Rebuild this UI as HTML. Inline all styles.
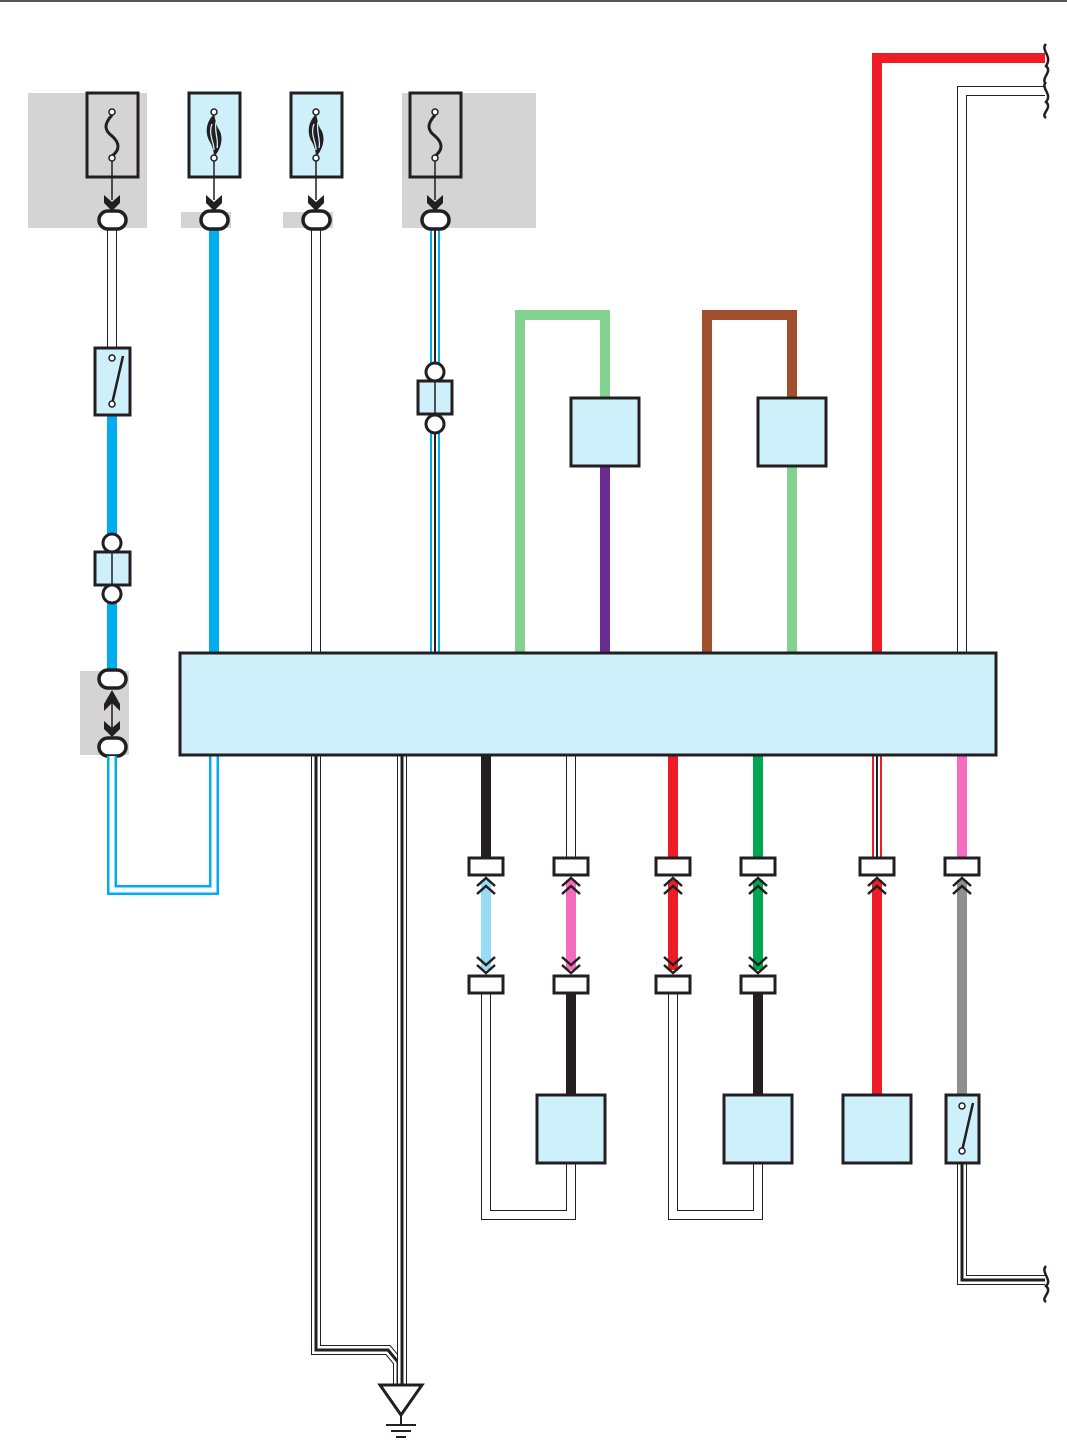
<!DOCTYPE html>
<html><head><meta charset="utf-8"><style>html,body{margin:0;padding:0;background:#fff}svg{display:block}</style></head><body>
<svg width="1067" height="1442" viewBox="0 0 1067 1442" xmlns="http://www.w3.org/2000/svg" fill="none" stroke-linecap="butt" stroke-linejoin="miter">
<defs>
<g id="chev"><path d="M-8,-8 L0,-1 L8,-8 L8,0 L0,8 L-8,0 Z" fill="#231f20"/></g>
<g id="dup"><path d="M-9,8 L0,0 L9,8 M-9,16 L0,8 L9,16" stroke="#231f20" stroke-width="2.5"/></g>
<g id="ddn"><path d="M-9,-8 L0,0 L9,-8 M-9,-16 L0,-8 L9,-16" stroke="#231f20" stroke-width="2.5"/></g>
</defs>
<line x1="0" y1="1" x2="1067" y2="1" stroke="#231f20" stroke-width="1.5"/>
<g fill="#d4d4d4">
<rect x="28" y="93" width="119" height="135"/><rect x="181" y="212" width="50" height="16"/>
<rect x="283" y="212" width="50" height="16"/><rect x="402" y="93" width="134" height="135"/>
<rect x="80" y="671" width="49" height="84"/>
</g>
<path d="M112,228V348" stroke="#231f20" stroke-width="10"/><path d="M112,228V348" stroke="#fff" stroke-width="8"/>
<path d="M112,415V672" stroke="#00aeef" stroke-width="10"/>
<path d="M214,228V652" stroke="#00aeef" stroke-width="10"/>
<path d="M316,228V652" stroke="#231f20" stroke-width="10"/><path d="M316,228V652" stroke="#fff" stroke-width="8"/>
<path d="M435,228V652" stroke="#00aeef" stroke-width="10"/><path d="M435,228V652" stroke="#fff" stroke-width="6"/><path d="M435,228V652" stroke="#231f20" stroke-width="2"/>
<path d="M520,652V315H605V398" stroke="#84d290" stroke-width="10"/>
<path d="M605,466V652" stroke="#6a2c91" stroke-width="10"/>
<path d="M707,652V315H792V398" stroke="#a0502d" stroke-width="10"/>
<path d="M792,466V652" stroke="#84d290" stroke-width="10"/>
<path d="M877,652V58H1045" stroke="#ee1c25" stroke-width="10"/>
<path d="M962,652V91H1045" stroke="#231f20" stroke-width="10"/><path d="M962,652V91H1045" stroke="#fff" stroke-width="8"/>
<path d="M1046,44 C1040,50 1053,56 1046,66 C1053,72 1040,78 1046,84 M1046,82 C1040,88 1053,94 1046,102 C1053,108 1040,114 1046,118" stroke="#231f20" stroke-width="2.5"/>
<g stroke="#231f20" stroke-width="3">
<rect x="87" y="93" width="51" height="84"/>
<rect x="189" y="93" width="51" height="84" fill="#cdf0fb"/>
<rect x="291" y="93" width="51" height="84" fill="#cdf0fb"/>
<rect x="410" y="93" width="51" height="84"/>
</g>
<g stroke="#231f20" stroke-width="3">
<path d="M112,115 C104,124 104,130 112,136 C120,143 120,150 112,156"/>
<path d="M435,115 C427,124 427,130 435,136 C443,143 443,150 435,156"/>
</g>
<path d="M214,114 C204,124 206,136 210,142 C213,148 214,152 214,157 C222,148 224,136 218,128 C216,124 215,118 214,114Z" fill="#231f20"/>
<path d="M212,124 C208,134 214,142 214,150 M216,122 C214,132 219,140 217,148" stroke="#cdf0fb" stroke-width="1.3"/>
<path d="M316,114 C306,124 308,136 312,142 C315,148 316,152 316,157 C324,148 326,136 320,128 C318,124 317,118 316,114Z" fill="#231f20"/>
<path d="M314,124 C310,134 316,142 316,150 M318,122 C316,132 321,140 319,148" stroke="#cdf0fb" stroke-width="1.3"/>
<g stroke="#231f20" stroke-width="1.5" fill="#fff">
<line x1="112" y1="158" x2="112" y2="200"/><line x1="214" y1="158" x2="214" y2="200"/><line x1="316" y1="158" x2="316" y2="200"/><line x1="435" y1="158" x2="435" y2="200"/>
<circle cx="112" cy="112" r="3"/><circle cx="112" cy="158" r="3"/>
<circle cx="214" cy="112" r="3"/><circle cx="214" cy="158" r="3"/>
<circle cx="316" cy="112" r="3"/><circle cx="316" cy="158" r="3"/>
<circle cx="435" cy="112" r="3"/><circle cx="435" cy="158" r="3"/>
</g>
<use href="#chev" x="112" y="203"/><use href="#chev" x="214" y="203"/><use href="#chev" x="316" y="203"/><use href="#chev" x="435" y="203"/>
<g stroke="#231f20" stroke-width="3.5" fill="#fff">
<rect x="99" y="211" width="27" height="18" rx="9"/><rect x="201" y="211" width="27" height="18" rx="9"/>
<rect x="303" y="211" width="27" height="18" rx="9"/><rect x="422" y="211" width="27" height="18" rx="9"/>
<rect x="99" y="670" width="27" height="18" rx="9"/><rect x="99" y="738" width="27" height="18" rx="9"/>
</g>
<line x1="112" y1="693" x2="112" y2="730" stroke="#231f20" stroke-width="1.5"/>
<path d="M104,704 L112,690 L120,704 L120,711 L112,703 L104,711Z" fill="#231f20"/>
<use href="#chev" x="112" y="729"/>
<rect x="95" y="348" width="35" height="67" fill="#cdf0fb" stroke="#231f20" stroke-width="3"/>
<line x1="112" y1="404" x2="123" y2="356" stroke="#231f20" stroke-width="2.5"/>
<circle cx="112" cy="358" r="3" fill="#fff" stroke="#231f20" stroke-width="1.5"/><circle cx="112" cy="404" r="3" fill="#fff" stroke="#231f20" stroke-width="1.5"/>
<g stroke="#231f20" stroke-width="3">
<circle cx="112" cy="543" r="9" fill="#fff"/><circle cx="112" cy="594" r="9" fill="#fff"/>
<rect x="95" y="552" width="35" height="33" fill="#cdf0fb"/>
<circle cx="435" cy="372" r="9" fill="#fff"/><circle cx="435" cy="424" r="9" fill="#fff"/>
<rect x="418" y="381" width="34" height="33" fill="#cdf0fb"/>
<rect x="571" y="398" width="68" height="68" fill="#cdf0fb"/>
<rect x="758" y="398" width="68" height="68" fill="#cdf0fb"/>
</g>
<line x1="112" y1="552" x2="112" y2="585" stroke="#231f20" stroke-width="1.5"/>
<line x1="435" y1="381" x2="435" y2="414" stroke="#231f20" stroke-width="1.5"/>
<path d="M112,756V890H214V755" stroke="#00aeef" stroke-width="10"/><path d="M112,756V890H214V755" stroke="#fff" stroke-width="5"/>
<path d="M316,755V1350H388L398,1362V1385" stroke="#231f20" stroke-width="10"/><path d="M316,755V1350H388L398,1362V1385" stroke="#fff" stroke-width="8"/><path d="M316,755V1350H388L398,1362V1385" stroke="#231f20" stroke-width="3"/>
<path d="M402,755V1385" stroke="#231f20" stroke-width="10"/><path d="M402,755V1385" stroke="#fff" stroke-width="8"/><path d="M402,755V1385" stroke="#231f20" stroke-width="3"/>
<path d="M380,1385H422L401,1415Z" fill="#fff" stroke="#231f20" stroke-width="3"/>
<path d="M401,1415V1424M386,1425H416M391,1431H411M396,1437H406" stroke="#231f20" stroke-width="2"/>
<path d="M486,755V858" stroke="#231f20" stroke-width="10"/>
<path d="M486,880V970" stroke="#97dcf7" stroke-width="10"/>
<path d="M486,993V1215H571V1163" stroke="#231f20" stroke-width="10"/><path d="M486,993V1215H571V1163" stroke="#fff" stroke-width="8"/>
<path d="M571,755V858" stroke="#231f20" stroke-width="10"/><path d="M571,755V858" stroke="#fff" stroke-width="8"/>
<path d="M571,880V970" stroke="#f56bbd" stroke-width="10"/>
<path d="M571,993V1095" stroke="#231f20" stroke-width="10"/>
<path d="M673,755V858M673,880V970" stroke="#ee1c25" stroke-width="10"/>
<path d="M673,993V1215H758V1163" stroke="#231f20" stroke-width="10"/><path d="M673,993V1215H758V1163" stroke="#fff" stroke-width="8"/>
<path d="M758,755V858M758,880V970" stroke="#00a651" stroke-width="10"/>
<path d="M758,993V1095" stroke="#231f20" stroke-width="10"/>
<path d="M877,755V858" stroke="#ee1c25" stroke-width="10"/><path d="M877,755V858" stroke="#fff" stroke-width="6"/><path d="M877,755V858" stroke="#231f20" stroke-width="2"/>
<path d="M877,880V1095" stroke="#ee1c25" stroke-width="10"/>
<path d="M962,755V858" stroke="#f56bbd" stroke-width="10"/>
<path d="M962,880V1095" stroke="#8f8f8f" stroke-width="10"/>
<path d="M962,1163V1280H1045" stroke="#231f20" stroke-width="10"/><path d="M962,1163V1280H1045" stroke="#fff" stroke-width="8"/><path d="M962,1163V1280H1045" stroke="#231f20" stroke-width="3"/>
<path d="M1046,1266 C1040,1272 1053,1280 1046,1286 C1053,1292 1040,1298 1046,1302" stroke="#231f20" stroke-width="2.5"/>
<g stroke="#231f20" stroke-width="3" fill="#fff">
<rect x="469" y="858" width="34" height="17"/><rect x="554" y="858" width="34" height="17"/><rect x="656" y="858" width="34" height="17"/><rect x="741" y="858" width="34" height="17"/><rect x="860" y="858" width="34" height="17"/><rect x="945" y="858" width="34" height="17"/>
<rect x="469" y="976" width="34" height="17"/><rect x="554" y="976" width="34" height="17"/><rect x="656" y="976" width="34" height="17"/><rect x="741" y="976" width="34" height="17"/>
</g>
<use href="#dup" x="486" y="878"/><use href="#dup" x="571" y="878"/><use href="#dup" x="673" y="878"/><use href="#dup" x="758" y="878"/><use href="#dup" x="877" y="878"/><use href="#dup" x="962" y="878"/>
<use href="#ddn" x="486" y="973"/><use href="#ddn" x="571" y="973"/><use href="#ddn" x="673" y="973"/><use href="#ddn" x="758" y="973"/>
<g stroke="#231f20" stroke-width="3" fill="#cdf0fb">
<rect x="537" y="1095" width="68" height="68"/><rect x="724" y="1095" width="68" height="68"/><rect x="843" y="1095" width="68" height="68"/><rect x="946" y="1095" width="33" height="68"/>
<rect x="180" y="653" width="816" height="102"/>
</g>
<line x1="962" y1="1151" x2="973" y2="1103" stroke="#231f20" stroke-width="2.5"/>
<circle cx="962" cy="1106" r="3" fill="#fff" stroke="#231f20" stroke-width="1.5"/><circle cx="962" cy="1151" r="3" fill="#fff" stroke="#231f20" stroke-width="1.5"/>
</svg>
</body></html>
